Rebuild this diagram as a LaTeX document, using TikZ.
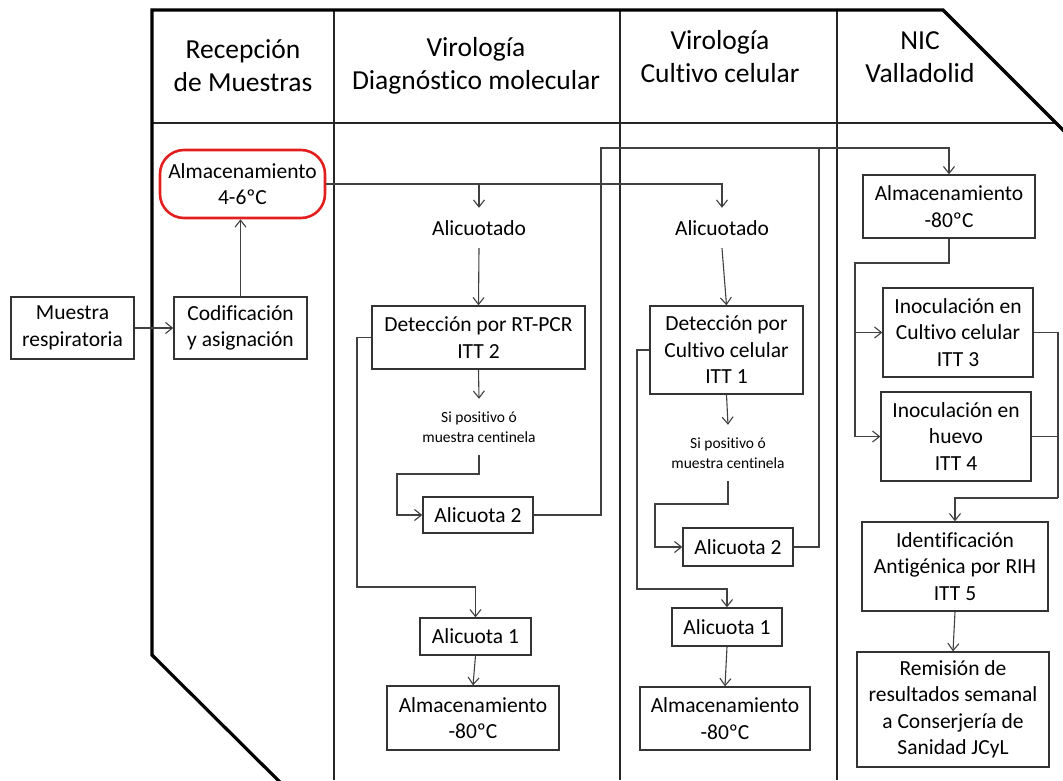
\documentclass[tikz,border=0pt]{standalone}
\usepackage{fontspec}
\setmainfont{Carlito}[Ligatures=NoCommon]
\usetikzlibrary{arrows.meta}
\definecolor{lineGray}{RGB}{64,64,64}
\definecolor{storeRed}{RGB}{226,30,30}
\tikzstyle{lane} = [line width=3.2pt, black, line join=miter]
\tikzstyle{grid} = [line width=1.1pt, black!85]
\tikzstyle{header} = [align=center, inner sep=0pt, font=\fontsize{27.5}{33}\selectfont]
\tikzstyle{process} = [rectangle, draw=black!80, fill=white, line width=1.3pt, align=center,
inner sep=0pt, font=\fontsize{21.5}{26.5}\selectfont]
\tikzstyle{storage} = [process, draw=storeRed, line width=2.6pt, rounded corners=24pt]
\tikzstyle{plain} = [align=center, inner sep=0pt, minimum height=40pt, font=\fontsize{21.5}{26.5}\selectfont]
\tikzstyle{note} = [align=center, inner sep=0pt, minimum height=56pt, font=\fontsize{15.5}{20}\selectfont]
\tikzstyle{flowLine} = [line width=1.1pt, lineGray]
\tikzstyle{flowArrow} = [flowLine, -{Straight Barb[length=7pt,width=11pt]}]

\begin{document}
\begin{tikzpicture}[x=1pt, y=-1pt]
		\useasboundingbox (0,0) rectangle (1063,780);
		\clip (0,0) rectangle (1063,780);
		%lanes
		\draw[grid] (152,123) -- (1056,123);
		\draw[grid] (334,10) -- (334,780);
		\draw[grid] (620,10) -- (620,780);
		\draw[grid] (837,10) -- (837,780);
		\draw[lane] (298,800) -- (152,655) -- (152,10) -- (943,10) -- (1083,150);
		\node[header] (h_recep) at (243,66) {Recepción\\de Muestras};
		\node[header] (h_mol) at (476,66) {Virología\\Diagnóstico molecular};
		\node[header] (h_cult) at (720,57) {Virología\\Cultivo celular};
		\node[header] (h_nic) at (920,57) {NIC\\Valladolid};

		%blocks
		\node[process, minimum width=123pt, minimum height=62pt] (muestra) at (72.5,328) {Muestra\\respiratoria};
		\node[process, minimum width=133pt, minimum height=62pt] (codif) at (240.5,328) {Codificación\\y asignación};
		\node[storage, minimum width=165pt, minimum height=68pt] (alm_46) at (242.5,184) {Almacenamiento\\4-6ºC};

		\node[plain] (alicuot_mol) at (479,228) {Alicuotado};
		\node[process, minimum width=213pt, minimum height=63pt] (det_pcr) at (478.5,337.5) {Detección por RT-PCR\\ITT 2};
		\node[note] (note_mol) at (479,427) {Si positivo ó\\muestra centinela};
		\node[process, minimum width=110pt, minimum height=36pt] (alic2_mol) at (478,515) {Alicuota 2};
		\node[process, minimum width=111pt, minimum height=37pt] (alic1_mol) at (475.5,636.5) {Alicuota 1};
		\node[process, minimum width=172pt, minimum height=64pt] (alm80_mol) at (473,718) {Almacenamiento\\-80ºC};

		\node[plain] (alicuot_cult) at (722,228) {Alicuotado};
		\node[process, minimum width=153pt, minimum height=88pt] (det_cult) at (726.5,350) {Detección por\\Cultivo celular\\ITT 1};
		\node[note] (note_cult) at (728,453) {Si positivo ó\\muestra centinela};
		\node[process, minimum width=110pt, minimum height=38pt] (alic2_cult) at (738,547) {Alicuota 2};
		\node[process, minimum width=110pt, minimum height=38pt] (alic1_cult) at (727,627) {Alicuota 1};
		\node[process, minimum width=170pt, minimum height=63pt] (alm80_cult) at (725,718.5) {Almacenamiento\\-80ºC};

		\node[process, minimum width=172pt, minimum height=63pt] (alm80_nic) at (949,206.5) {Almacenamiento\\-80ºC};
		\node[process, minimum width=150pt, minimum height=89pt] (inoc_cult) at (958,332.5) {Inoculación en\\Cultivo celular\\ITT 3};
		\node[process, minimum width=150pt, minimum height=89pt] (inoc_huevo) at (956,436.5) {Inoculación en\\huevo\\ITT 4};
		\node[process, minimum width=186pt, minimum height=89pt] (ident) at (955,566.5) {Identificación\\Antigénica por RIH\\ITT 5};
		\node[process, minimum width=192pt, minimum height=115pt] (remis) at (953,709.5) {Remisión de\\resultados semanal\\a Conserjería de\\Sanidad JCyL};

		%bends
		\coordinate (bend_mol) at (397,474);
		\coordinate (side_mol) at (357,587);
		\coordinate (up_mol) at (601,148);
		\coordinate (bend_cult) at (655,504);
		\coordinate (side_cult) at (637,589);
		\coordinate (join_cult) at (819,148);
		\coordinate (split_nic) at (855,263);
		\coordinate (merge_nic) at (1058,498);

		%arrows
		\draw[flowArrow] (muestra.east) -- (codif.west);
		\draw[flowArrow] (codif.north) -- (codif.north |- alm_46.south);
		\draw[flowArrow] (alm_46.east) -| (alicuot_cult.north);
		\draw[flowArrow] (alm_46.east -| alicuot_mol.north) -- (alicuot_mol.north);
		\draw[flowArrow] (alicuot_mol.south) -- (det_pcr.north);
		\draw[flowArrow] (det_pcr.south) -- (note_mol.north);
		\draw[flowArrow] (note_mol.south) |- (bend_mol) |- (alic2_mol.west);
		\draw[flowArrow] (alic2_mol.east) -| (up_mol) -| (alm80_nic.north);
		\draw[flowArrow] (det_pcr.west) -| (side_mol) -| (alic1_mol.north);
		\draw[flowArrow] (alic1_mol.south) -- (alm80_mol.north);
		\draw[flowArrow] (alicuot_cult.south) -- (det_cult.north);
		\draw[flowArrow] (det_cult.south) -- (note_cult.north);
		\draw[flowArrow] (note_cult.south) |- (bend_cult) |- (alic2_cult.west);
		\draw[flowLine] (alic2_cult.east) -| (join_cult);
		\draw[flowArrow] (det_cult.west) -| (side_cult) -| (alic1_cult.north);
		\draw[flowArrow] (alic1_cult.south) -- (alm80_cult.north);
		\draw[flowArrow] (alm80_nic.south) |- (split_nic) |- (inoc_huevo.west);
		\draw[flowArrow] (split_nic |- inoc_cult.west) -- (inoc_cult.west);
		\draw[flowLine] (inoc_cult.east) -| (merge_nic);
		\draw[flowLine] (inoc_huevo.east) -- (inoc_huevo.east -| merge_nic);
		\draw[flowArrow] (merge_nic) -| (ident.north);
		\draw[flowArrow] (ident.south) -- (remis.north);
	\end{tikzpicture}
\end{document}
